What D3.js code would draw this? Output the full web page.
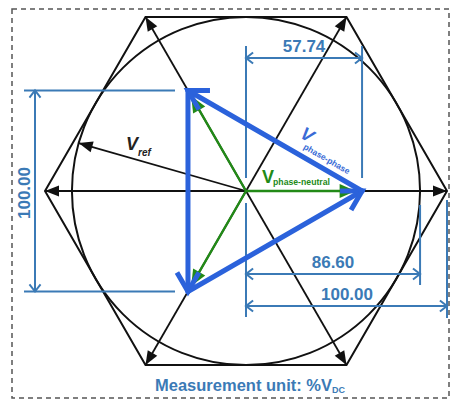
<!DOCTYPE html>
<html>
<head>
<meta charset="utf-8">
<script src="https://cdn.jsdelivr.net/npm/d3@7"></script>
<style>
  html, body { margin: 0; padding: 0; background: #fff; }
  svg { display: block; }
  text { font-family: "Liberation Sans", Arial, sans-serif; }
</style>
</head>
<body>
<svg id="chart" width="451" height="400"></svg>
<script>
// Space-vector diagram of a two-level inverter, values in %Vdc
const hexVertexAngles = [0, 60, 120, 180, 240, 300];   // active vectors (deg)
const hexRadius = 100.00;                              // active vector length
const circleRadius = 86.60;                            // max linear Vref
const phaseAngles = [0, 120, 240];                     // phase-neutral vectors (deg)
const phaseNeutral = 57.74;
const phasePhase = 100.00;
const vrefAngle = 164;                                 // deg
const vrefLength = 86.60;
const dimLabels = ["57.74", "86.60", "100.00", "100.00"];

const svg = d3.select("#chart");
const cx = 246, cy = 191;
const s = d3.scaleLinear().domain([0, 100]).range([0, 201]);
const rad = d => d * Math.PI / 180;
const pt = (r, a) => [cx + s(r) * Math.cos(rad(a)), cy - s(r) * Math.sin(rad(a))];

const BLACK = "#111", GREEN = "#228a17", BLUE = "#2b62db", DIM = "#3b7ab6";

// frame
svg.append("rect").attr("x", 12).attr("y", 9).attr("width", 437).attr("height", 389)
  .attr("fill", "none").attr("stroke", "#555").attr("stroke-width", 1.5)
  .attr("stroke-dasharray", "5,4");

// filled arrowhead with its tip at p, pointing along the direction from q to p
function headFilled(g, q, p, len, hw, color) {
  const ang = Math.atan2(p[1] - q[1], p[0] - q[0]);
  const bx = p[0] - len * Math.cos(ang), by = p[1] - len * Math.sin(ang);
  const nx = -Math.sin(ang), ny = Math.cos(ang);
  g.append("path")
    .attr("d", `M${p[0]},${p[1]}L${bx + hw * nx},${by + hw * ny}L${bx - hw * nx},${by - hw * ny}Z`)
    .attr("fill", color);
}
// open arrowhead (two wings) with its tip at p
function headOpen(g, q, p, len, spread, color, width) {
  const ang = Math.atan2(q[1] - p[1], q[0] - p[0]);
  const w1 = [p[0] + len * Math.cos(ang + spread), p[1] + len * Math.sin(ang + spread)];
  const w2 = [p[0] + len * Math.cos(ang - spread), p[1] + len * Math.sin(ang - spread)];
  g.append("path")
    .attr("d", `M${w1[0]},${w1[1]}L${p[0]},${p[1]}L${w2[0]},${w2[1]}`)
    .attr("fill", "none").attr("stroke", color).attr("stroke-width", width)
    .attr("stroke-linejoin", "miter").attr("stroke-linecap", "butt");
}

// circle and hexagon
const geo = svg.append("g");
geo.append("circle").attr("cx", cx).attr("cy", cy).attr("r", s(circleRadius))
  .attr("fill", "none").attr("stroke", BLACK).attr("stroke-width", 2);
const hexPts = hexVertexAngles.map(a => pt(hexRadius, a));
geo.append("path").attr("d", d3.line()(hexPts) + "Z")
  .attr("fill", "none").attr("stroke", BLACK).attr("stroke-width", 2);

// active vectors
const vecs = svg.append("g");
hexVertexAngles.forEach(a => {
  const p = pt(hexRadius, a);
  vecs.append("line").attr("x1", cx).attr("y1", cy).attr("x2", p[0]).attr("y2", p[1])
    .attr("stroke", BLACK).attr("stroke-width", 1.8);
  headFilled(vecs, [cx, cy], p, 14, 5.5, BLACK);
});
// reference vector
const vr = pt(vrefLength, vrefAngle);
vecs.append("line").attr("x1", cx).attr("y1", cy).attr("x2", vr[0]).attr("y2", vr[1])
  .attr("stroke", BLACK).attr("stroke-width", 1.8);
headFilled(vecs, [cx, cy], vr, 14, 5.5, BLACK);

// dimension lines
const dim = svg.append("g").attr("stroke", DIM).attr("stroke-width", 2).attr("fill", "none");
function seg(x1, y1, x2, y2) {
  dim.append("line").attr("x1", x1).attr("y1", y1).attr("x2", x2).attr("y2", y2);
}
function dimArrow(a, b) {
  seg(a[0], a[1], b[0], b[1]);
  headOpen(dim, b, a, 9, rad(38), DIM, 2);
  headOpen(dim, a, b, 9, rad(38), DIM, 2);
}
const pn = pt(phaseNeutral, 0);
const pLeftTop = pt(phaseNeutral, 120), pLeftBot = pt(phaseNeutral, 240);
// 57.74
seg(cx, 46, cx, 178); seg(pn[0], 46, pn[0], 178);
dimArrow([cx, 58], [pn[0], 58]);
// 86.60
const cr = cx + s(circleRadius);
seg(cx, 203, cx, 317); seg(cr, 205, cr, 285);
dimArrow([cx, 274], [cr, 274]);
// 100.00 horizontal
const hr = cx + s(hexRadius);
seg(hr, 200, hr, 318);
dimArrow([cx, 306], [hr, 306]);
// 100.00 vertical (phase-phase)
seg(24, pLeftTop[1], 175, pLeftTop[1]); seg(24, pLeftBot[1], 175, pLeftBot[1]);
dimArrow([35, pLeftTop[1]], [35, pLeftTop[1] + s(phasePhase)]);

// phase-neutral vectors (heads stop just short of the triangle corners)
const gr = svg.append("g");
phaseAngles.forEach(a => {
  const p = pt(phaseNeutral, a);
  const tip = pt(phaseNeutral - 3.2, a);
  gr.append("line").attr("x1", cx).attr("y1", cy).attr("x2", tip[0]).attr("y2", tip[1])
    .attr("stroke", GREEN).attr("stroke-width", 2.4);
  headFilled(gr, [cx, cy], tip, 16, 7, GREEN);
});

// phase-phase triangle
const bl = svg.append("g");
const tri = [pLeftTop, pLeftBot, pn];
tri.forEach((q, i) => {
  const p = tri[(i + 1) % 3];
  bl.append("line").attr("x1", q[0]).attr("y1", q[1]).attr("x2", p[0]).attr("y2", p[1])
    .attr("stroke", BLUE).attr("stroke-width", 5).attr("stroke-linecap", "round");
  headOpen(bl, q, p, 22, rad(30), BLUE, 5);
});

// labels
const lbl = svg.append("g").attr("font-weight", "bold");
lbl.selectAll("text.dimlabel").data([
  { t: dimLabels[0], x: (cx + pn[0]) / 2, y: 52 },
  { t: dimLabels[1], x: 333, y: 268 },
  { t: dimLabels[2], x: 347, y: 300 }
]).join("text").attr("class", "dimlabel")
  .attr("x", d => d.x).attr("y", d => d.y).attr("text-anchor", "middle")
  .attr("font-size", 17).attr("fill", DIM).text(d => d.t);
lbl.append("text").attr("transform", `translate(30,${cy + 2}) rotate(-90)`)
  .attr("text-anchor", "middle").attr("font-size", 17).attr("fill", DIM).text(dimLabels[3]);

// V_ref
const tRef = lbl.append("text").attr("x", 126).attr("y", 150).attr("fill", "#222").attr("font-style", "italic");
tRef.append("tspan").attr("font-size", 18).text("V");
tRef.append("tspan").attr("font-size", 10).attr("dy", 6).text("ref");

// V_phase-phase
const tPP = lbl.append("text").attr("transform", "translate(299,137) rotate(30)").attr("fill", "#3a6bd6");
tPP.append("tspan").attr("font-size", 18).attr("font-style", "italic").text("V");
tPP.append("tspan").attr("font-size", 8.5).attr("dy", 8).attr("dx", -3).text("phase-phase");

// V_phase-neutral
const tPN = lbl.append("text").attr("x", 262).attr("y", 183).attr("fill", GREEN);
tPN.append("tspan").attr("font-size", 18).text("V");
tPN.append("tspan").attr("font-size", 8.7).attr("dy", 2).attr("dx", -1).text("phase-neutral");

// unit note
const tU = lbl.append("text").attr("x", 250).attr("y", 391).attr("text-anchor", "middle")
  .attr("fill", DIM).attr("font-size", 16.5);
tU.append("tspan").text("Measurement unit: %V");
tU.append("tspan").attr("font-size", 9).attr("dy", 2).text("DC");
</script>
</body>
</html>
